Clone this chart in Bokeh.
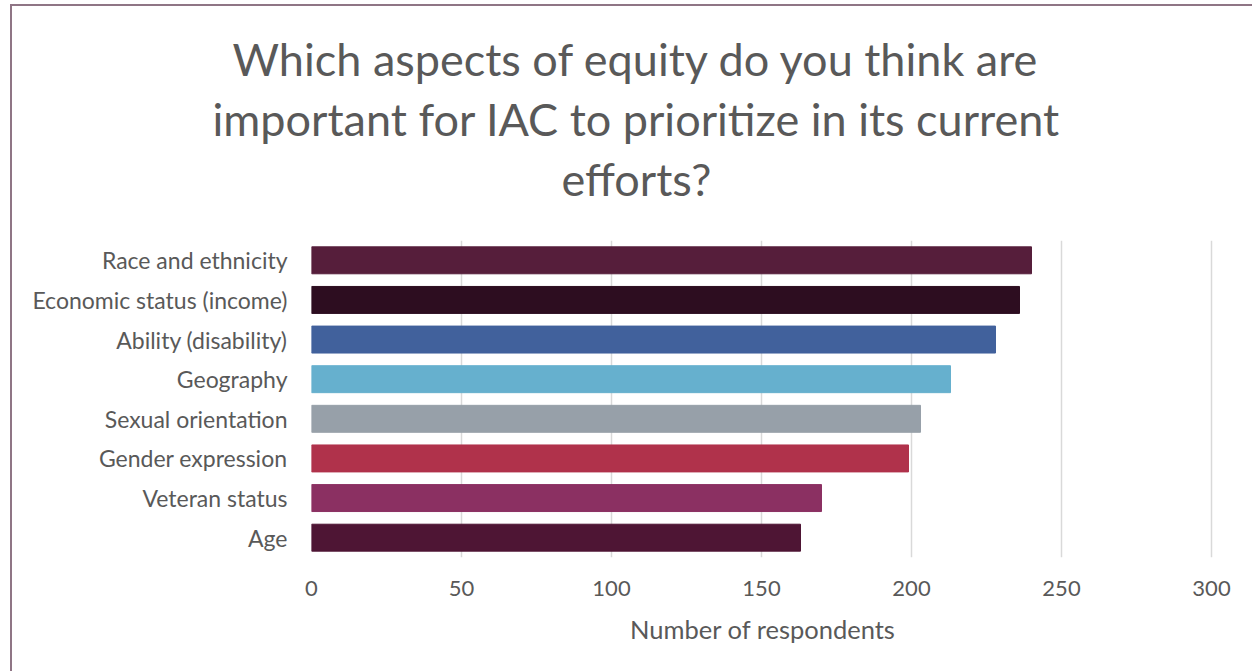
from bokeh.plotting import figure
from bokeh.models import Range1d, FactorRange, ColumnDataSource, Title, FixedTicker
from bokeh.embed import file_html
from bokeh.resources import INLINE

categories = ["Race and ethnicity", "Economic status (income)", "Ability (disability)",
              "Geography", "Sexual orientation", "Gender expression", "Veteran status", "Age"]
values = [240, 236, 228, 213, 203, 199, 170, 163]
colors = ["#561e3b", "#2d0d20", "#41619c", "#66b0ce", "#97a0a9", "#b0324b", "#8b3062", "#4e1534"]
x_ticks = [0, 50, 100, 150, 200, 250, 300]
title_lines = ["Which aspects of equity do you think are",
               "important for IAC to prioritize in its current",
               "efforts?"]
title_offsets = [-79, -99, 250]
x_title = "Number of respondents"

FONT = "Lato"
TXT = "#595959"

src = ColumnDataSource(dict(cat=categories, val=values, color=colors))

p = figure(width=1242, height=667, output_backend="svg", toolbar_location=None,
           x_range=Range1d(0, 301), y_range=FactorRange(*categories[::-1]),
           min_border_left=299, min_border_right=40, min_border_top=234, min_border_bottom=116)
p.styles = {"border-left": "2px solid #8f7585", "border-top": "2px solid #8f7585",
            "margin-left": "10px", "margin-top": "4px"}
p.outline_line_color = None
p.background_fill_color = "white"
p.border_fill_color = "white"

p.hbar(y="cat", right="val", left=0, height=0.68, color="color", source=src)

p.xgrid.ticker = FixedTicker(ticks=x_ticks)
p.xgrid.grid_line_color = "#d9d9d9"
p.xgrid.grid_line_width = 1.5
p.ygrid.grid_line_color = None

p.xaxis.ticker = FixedTicker(ticks=x_ticks)
p.xaxis.axis_line_color = None
p.xaxis.major_tick_line_color = None
p.xaxis.minor_tick_line_color = None
p.xaxis.major_tick_out = 0
p.xaxis.major_tick_in = 0
p.xaxis.major_label_text_font = FONT
p.xaxis.major_label_text_font_size = "22px"
p.xaxis.major_label_text_color = TXT
p.xaxis.major_label_standoff = 23
p.xaxis.axis_label = x_title
p.xaxis.axis_label_text_font = FONT
p.xaxis.axis_label_text_font_size = "25.5px"
p.xaxis.axis_label_text_font_style = "normal"
p.xaxis.axis_label_text_color = TXT
p.xaxis.axis_label_standoff = 15

p.yaxis.axis_line_color = None
p.yaxis.major_tick_line_color = None
p.yaxis.minor_tick_line_color = None
p.yaxis.major_tick_out = 0
p.yaxis.major_tick_in = 0
p.yaxis.major_label_text_font = FONT
p.yaxis.major_label_text_font_size = "23px"
p.yaxis.major_label_text_color = TXT
p.yaxis.major_label_standoff = 24

# spacer between the plot area and the last title line
p.add_layout(Title(text=" ", text_font_size="1px", standoff=29.5), "above")
for t, off in list(zip(title_lines, title_offsets))[::-1]:
    p.add_layout(Title(text=t, align="left", offset=off, text_font=FONT,
                       text_font_size="45px", text_font_style="normal", text_color=TXT,
                       standoff=4), "above")

open("out.html", "w").write(file_html(p, INLINE))
